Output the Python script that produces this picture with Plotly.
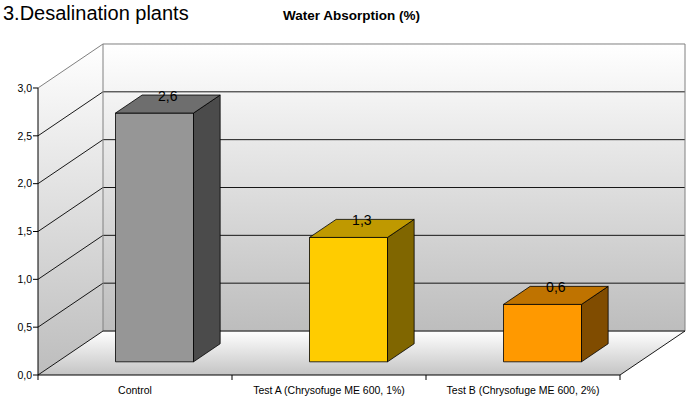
import plotly.graph_objects as go

# ---------------- data ----------------
categories = ["Control", "Test A (Chrysofuge ME 600, 1%)", "Test B (Chrysofuge ME 600, 2%)"]
values = [2.6, 1.3, 0.6]
value_labels = ["2,6", "1,3", "0,6"]
y_ticks = [0.0, 0.5, 1.0, 1.5, 2.0, 2.5, 3.0]
y_tick_labels = ["0,0", "0,5", "1,0", "1,5", "2,0", "2,5", "3,0"]
front_colors = ["#969696", "#ffcc00", "#ff9900"]
top_colors = ["#6e6e6e", "#bf9900", "#bf7300"]
side_colors = ["#4b4b4b", "#806600", "#804c00"]
chart_title = "Water Absorption (%)"
header_text = "3.Desalination plants"

# ---------------- geometry (pixels) ----------------
W, H = 692, 406
ORIG_X, ORIG_Y = 38, 375          # front-left corner of the floor (axis origin)
CAT_W = 194.0                     # pixels per category
PPU = 95.67                       # pixels per value unit
DEPTH_X, DEPTH_Y = 65.0, 44.0     # full depth offset (right, up)
BAR_PLANE = 0.30                  # depth fraction where bars start
BAR_DEPTH = 0.41                  # depth fraction of bars
BAR_W = 78.0                      # bar front width in pixels
L, R, T, B = 33, 689, 41, 382     # plot area in pixels
FONT = "Liberation Sans, Arial, sans-serif"

# derived data-unit geometry
n = len(categories)
x0, xr = -0.5, n - 0.5
dxf, dyf = DEPTH_X / CAT_W, DEPTH_Y / PPU
ymax = y_ticks[-1]
x_range = [x0 - (ORIG_X - L) / CAT_W, x0 + (R - ORIG_X) / CAT_W]
y_range = [-(B - ORIG_Y) / PPU, (ORIG_Y - T) / PPU]
tick_px = 5.0


def paper_x(p):
    return (p - L) / (R - L)


def paper_y(p):
    return (B - p) / (B - T)


def poly(xs, ys, **kw):
    return go.Scatter(x=list(xs) + [xs[0]], y=list(ys) + [ys[0]], mode="lines",
                      fill="toself", hoverinfo="skip", showlegend=False, **kw)


def segs(seglist, color, width):
    xs, ys = [], []
    for (xa, ya), (xb, yb) in seglist:
        xs += [xa, xb, None]
        ys += [ya, yb, None]
    return go.Scatter(x=xs, y=ys, mode="lines", line=dict(color=color, width=width),
                      hoverinfo="skip", showlegend=False)


grad = dict(type="vertical", colorscale=[[0, "#bdbdbd"], [1, "#ffffff"]])
fig = go.Figure()

# floor
fig.add_trace(poly([x0, xr, xr + dxf, x0 + dxf], [0, 0, dyf, dyf],
                   line=dict(width=0), fillgradient=dict(type="vertical",
                   colorscale=[[0, "#c4c4c4"], [1, "#ffffff"]])))
# left wall
fig.add_trace(poly([x0, x0, x0 + dxf, x0 + dxf], [0, ymax, ymax + dyf, dyf],
                   line=dict(width=0), fillgradient=grad))
# back wall
fig.add_trace(poly([x0 + dxf, xr + dxf, xr + dxf, x0 + dxf], [dyf, dyf, ymax + dyf, ymax + dyf],
                   line=dict(width=0), fillgradient=grad))

# gridlines
grid = []
for v in y_ticks[1:-1]:
    grid.append(((x0, v), (x0 + dxf, v + dyf)))
    grid.append(((x0 + dxf, v + dyf), (xr + dxf, v + dyf)))
fig.add_trace(segs(grid, "#000000", 0.9))

# wall edges
edges = [((x0, ymax), (x0 + dxf, ymax + dyf)),
         ((x0 + dxf, ymax + dyf), (xr + dxf, ymax + dyf)),
         ((xr + dxf, ymax + dyf), (xr + dxf, dyf)),
         ((x0 + dxf, dyf), (x0 + dxf, ymax + dyf))]
fig.add_trace(segs(edges, "#808080", 1))
fig.add_trace(segs([((x0 + dxf, dyf), (xr + dxf, dyf))], "#4a4a4a", 1.6))
fig.add_trace(segs([((x0, 0), (x0 + dxf, dyf)), ((xr, 0), (xr + dxf, dyf))], "#000000", 0.9))

# bars
half = BAR_W / 2 / CAT_W
ddx, ddy = BAR_DEPTH * dxf, BAR_DEPTH * dyf
yb = BAR_PLANE * dyf
lab_x, lab_y = [], []
for i, v in enumerate(values):
    cx = i + BAR_PLANE * dxf
    yt = v + yb
    bl = dict(color="#000000", width=0.8)
    fig.add_trace(poly([cx - half, cx + half, cx + half, cx - half], [yb, yb, yt, yt],
                       fillcolor=front_colors[i], line=bl))
    fig.add_trace(poly([cx + half, cx + half + ddx, cx + half + ddx, cx + half],
                       [yb, yb + ddy, yt + ddy, yt], fillcolor=side_colors[i], line=bl))
    fig.add_trace(poly([cx - half, cx + half, cx + half + ddx, cx - half + ddx],
                       [yt, yt, yt + ddy, yt + ddy], fillcolor=top_colors[i], line=bl))
    lab_x.append(cx + ddx / 2)
    lab_y.append(yt + ddy - 2 / PPU)

# axes lines and ticks
axes = [((x0, 0), (x0, ymax)), ((x0, 0), (xr, 0))]
for v in y_ticks:
    axes.append(((x0 - tick_px / CAT_W, v), (x0, v)))
for k in range(n + 1):
    axes.append(((k - 0.5, 0), (k - 0.5, -tick_px / PPU)))
fig.add_trace(segs(axes, "#000000", 1))

# value labels
fig.add_trace(go.Scatter(x=lab_x, y=lab_y, mode="text", text=value_labels,
                         textposition="middle center", cliponaxis=False,
                         textfont=dict(family=FONT, size=14, color="#000000"),
                         hoverinfo="skip", showlegend=False))

fig.update_layout(
    width=W, height=H, autosize=False,
    margin=dict(l=L, r=W - R, t=T, b=H - B, pad=0),
    paper_bgcolor="#ffffff", plot_bgcolor="rgba(0,0,0,0)",
    font=dict(family=FONT, color="#000000"),
    showlegend=False,
    xaxis=dict(range=x_range, tickvals=list(range(n)), ticktext=categories, ticks="",
               showgrid=False, zeroline=False, showline=False, automargin=False,
               fixedrange=True, tickfont=dict(size=10.5, family=FONT, color="#000000")),
    yaxis=dict(range=y_range, tickvals=y_ticks, ticktext=y_tick_labels, ticks="",
               showgrid=False, zeroline=False, showline=False, automargin=False,
               fixedrange=True, tickfont=dict(size=10.5, family=FONT, color="#000000")),
    annotations=[
        dict(text="<b>" + chart_title + "</b>", xref="paper", yref="paper",
             x=paper_x(351), y=paper_y(15), xanchor="center", yanchor="middle",
             showarrow=False, font=dict(family=FONT, size=13.5, color="#000000")),
        dict(text=header_text, xref="paper", yref="paper",
             x=paper_x(1), y=paper_y(13), xanchor="left", yanchor="middle",
             showarrow=False, font=dict(family=FONT, size=20, color="#000000")),
    ],
)

fig.write_html("out.html", config={"displayModeBar": False},
               post_script="document.body.style.margin='0';")
